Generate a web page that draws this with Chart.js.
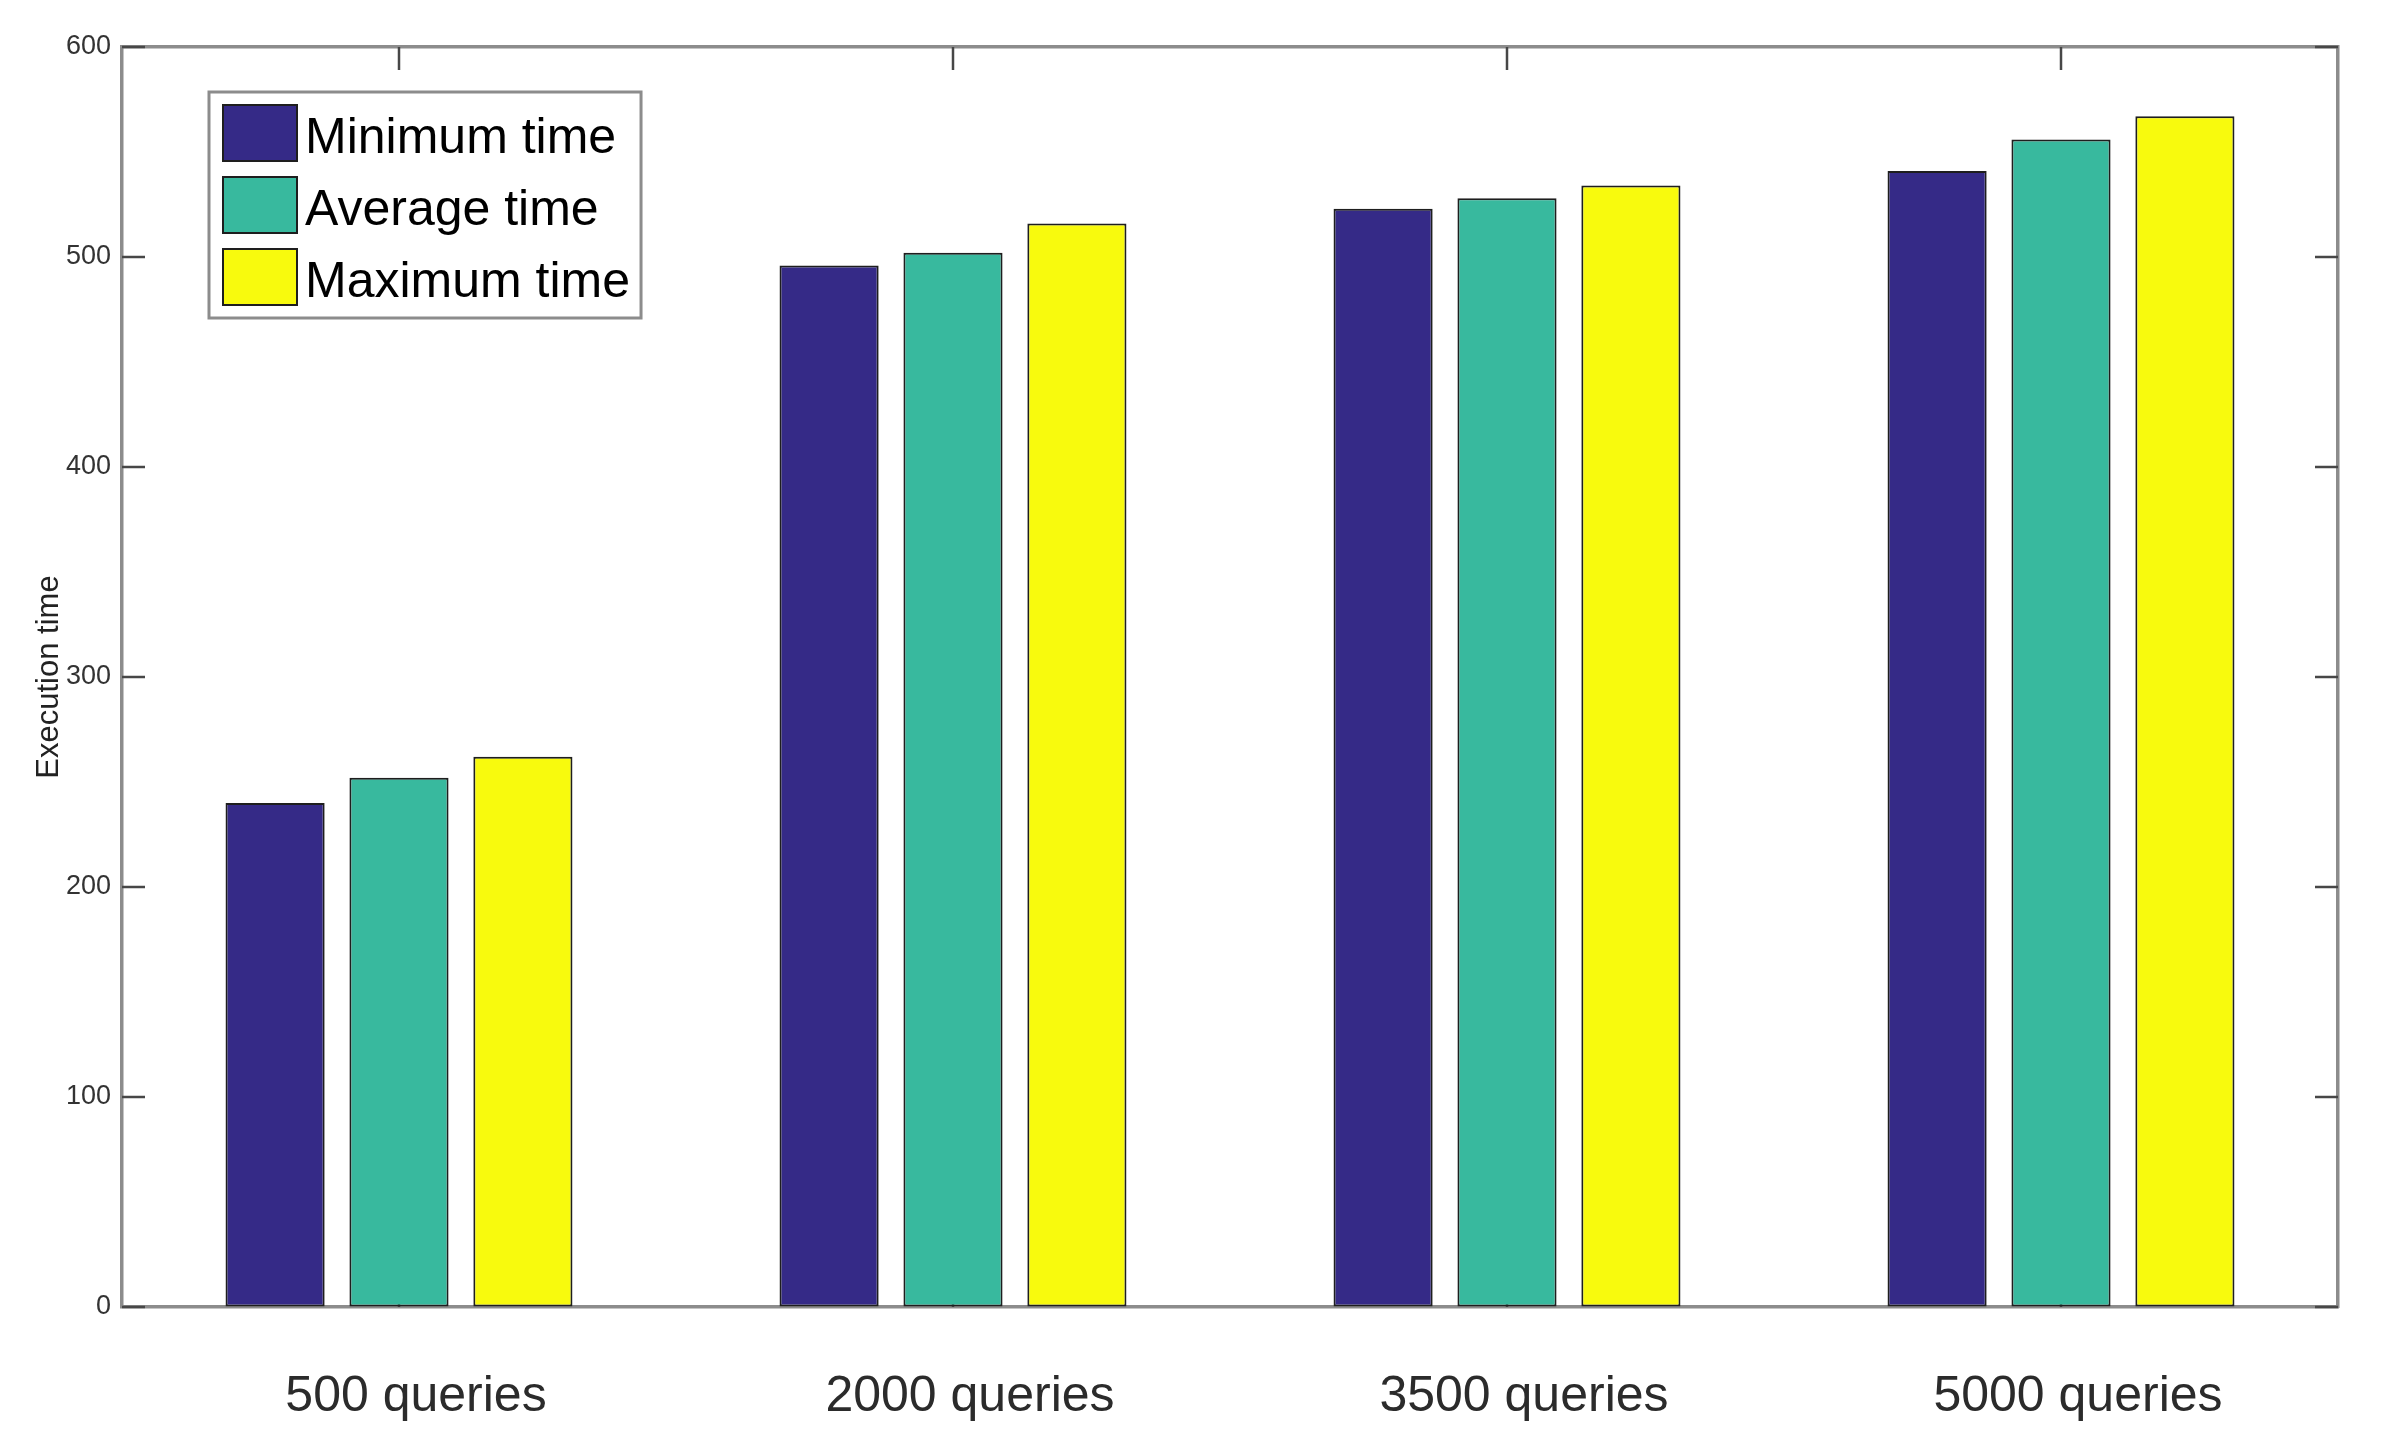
<!DOCTYPE html>
<html><head><meta charset="utf-8">
<script src="https://cdn.jsdelivr.net/npm/chart.js@4.4.1/dist/chart.umd.min.js"></script>
<style>html,body{margin:0;padding:0;background:#fff;overflow:hidden}canvas{display:block}</style>
</head><body>
<canvas id="c" width="2383" height="1446"></canvas>
<script>
const categories = ['500 queries', '2000 queries', '3500 queries', '5000 queries'];
const seriesNames = ['Minimum time', 'Average time', 'Maximum time'];
const minimumTime = [240, 496, 523, 541];
const averageTime = [252, 502, 528, 556];
const maximumTime = [262, 516, 534, 567];
const yTicks = [0, 100, 200, 300, 400, 500, 600];
const yTitle = 'Execution time';
const seriesColors = ['#352A87', '#38B99E', '#F8FA0D'];

const AXIS_GRAY = '#8c8c8c';

const innerTicks = {
  id: 'innerTicks',
  beforeDatasetsDraw(chart) {
    const {ctx, chartArea: a, scales} = chart;
    const L = 23;
    ctx.save();
    ctx.strokeStyle = '#474747';
    ctx.lineWidth = 2.5;
    ctx.beginPath();
    scales.y.ticks.forEach((t, i) => {
      const py = Math.round(scales.y.getPixelForTick(i));
      ctx.moveTo(a.left, py); ctx.lineTo(a.left + L, py);
      ctx.moveTo(a.right, py); ctx.lineTo(a.right - L, py);
    });
    scales.x.ticks.forEach((t, i) => {
      const px = Math.round(scales.x.getPixelForTick(i));
      ctx.moveTo(px, a.top); ctx.lineTo(px, a.top + L);
      ctx.moveTo(px, a.bottom); ctx.lineTo(px, a.bottom - L);
    });
    ctx.stroke();
    ctx.restore();
  }
};

const boxLegend = {
  id: 'boxLegend',
  afterDraw(chart) {
    const ctx = chart.ctx;
    const ds = chart.data.datasets;
    ctx.save();
    ctx.font = '50px "Liberation Sans", Arial, sans-serif';
    const left = 209, top = 92, bottom = 318;
    const rowH = 72, firstCY = 133, sw = 74, sh = 56, swX = 223, txtX = 305;
    let maxW = 0;
    ds.forEach(d => { maxW = Math.max(maxW, ctx.measureText(d.label).width); });
    const right = txtX + maxW + 11;
    ctx.fillStyle = '#fff';
    ctx.fillRect(left, top, right - left, bottom - top);
    ctx.strokeStyle = AXIS_GRAY;
    ctx.lineWidth = 3;
    ctx.strokeRect(left, top, right - left, bottom - top);
    ds.forEach((d, i) => {
      const cy = firstCY + i * rowH;
      ctx.fillStyle = d.backgroundColor;
      ctx.fillRect(swX, cy - sh / 2, sw, sh);
      ctx.strokeStyle = '#1e1e1e';
      ctx.lineWidth = 2;
      ctx.strokeRect(swX, cy - sh / 2, sw, sh);
      ctx.fillStyle = '#000';
      ctx.textBaseline = 'alphabetic';
      ctx.textAlign = 'left';
      ctx.fillText(d.label, txtX, cy + 20);
    });
    ctx.restore();
  }
};

const seriesValues = [minimumTime, averageTime, maximumTime];

new Chart(document.getElementById('c'), {
  type: 'bar',
  data: {
    labels: categories,
    datasets: seriesNames.map((name, i) => ({
      label: name,
      data: seriesValues[i],
      backgroundColor: seriesColors[i],
      borderColor: '#1e1e1e',
      borderWidth: 2,
      borderSkipped: false,
      categoryPercentage: 0.671,
      barPercentage: 0.8
    }))
  },
  options: {
    responsive: false,
    animation: false,
    devicePixelRatio: 1,
    layout: {padding: 0},
    plugins: {legend: {display: false}, tooltip: {enabled: false}},
    scales: {
      x: {
        position: 'bottom',
        offset: true,
        grid: {display: true, drawOnChartArea: false, drawTicks: false},
        border: {display: true, color: AXIS_GRAY, width: 3.5},
        ticks: {
          color: '#2b2b2b',
          padding: 60,
          labelOffset: 17,
          maxRotation: 0,
          font: {family: '"Liberation Sans", Arial, sans-serif', size: 50}
        },
        afterFit(s) { s.height = 139; }
      },
      xTop: {
        type: 'category',
        position: 'top',
        offset: true,
        grid: {display: true, drawOnChartArea: false, drawTicks: false},
        border: {display: true, color: AXIS_GRAY, width: 3.5},
        ticks: {display: false},
        afterFit(s) { s.height = 47; }
      },
      y: {
        position: 'left',
        min: 0, max: 600,
        afterBuildTicks(s) { s.ticks = yTicks.map(v => ({value: v})); },
        grid: {display: true, drawOnChartArea: false, drawTicks: false},
        border: {display: true, color: AXIS_GRAY, width: 3.5},
        ticks: {
          color: '#333',
          padding: 11,
          font: {family: '"Liberation Sans Narrow", "Arial Narrow", "Liberation Sans", sans-serif', size: 27}
        },
        title: {
          display: true,
          text: yTitle,
          color: '#222',
          padding: {top: 31, bottom: 0},
          font: {family: '"Liberation Sans", Arial, sans-serif', size: 31}
        },
        afterFit(s) { s.width = 122; }
      },
      yRight: {
        position: 'right',
        min: 0, max: 600,
        grid: {display: true, drawOnChartArea: false, drawTicks: false},
        border: {display: true, color: AXIS_GRAY, width: 3.5},
        ticks: {display: false},
        afterFit(s) { s.width = 45; }
      }
    }
  },
  plugins: [innerTicks, boxLegend]
});
</script>
</body></html>
